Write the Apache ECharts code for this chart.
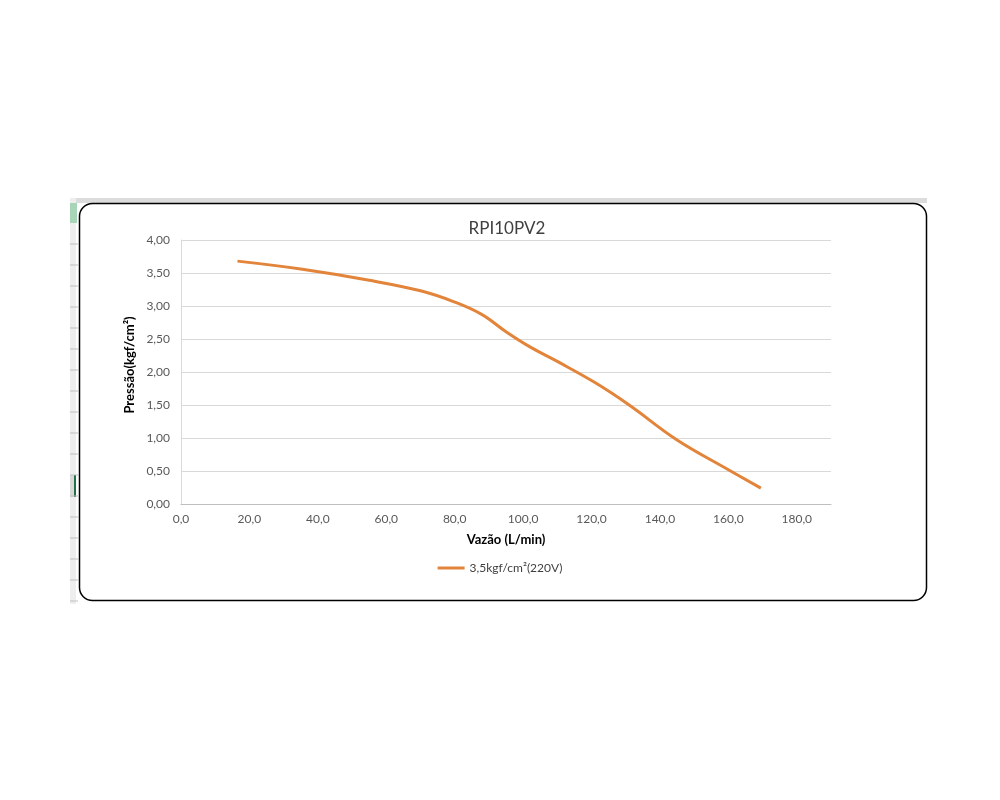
<!DOCTYPE html>
<html>
<head>
<meta charset="utf-8">
<script src="https://cdn.jsdelivr.net/npm/echarts@6/dist/echarts.min.js"></script>
<style>
  html, body { margin: 0; padding: 0; background: #fff; }
  #chart { width: 1000px; height: 800px; }
</style>
</head>
<body>
<div id="chart"></div>
<script>
// vazão (L/min) e pressão (kgf/cm²)
const vazao = [16.5, 35, 55, 70, 80, 88, 95, 102, 110, 121, 131, 145, 160, 169.5]
const pressao = [3.68, 3.56, 3.39, 3.23, 3.06, 2.87, 2.61, 2.38, 2.16, 1.84, 1.5, 0.97, 0.52, 0.24]
const serieNome = '3,5kgf/cm²(220V)'
const titulo = 'RPI10PV2'
const tituloY = 'Pressão(kgf/cm²)'
const tituloX = 'Vazão (L/min)'

const font = 'Lato, "Open Sans", sans-serif'
const chart = echarts.init(document.getElementById('chart'))

// pedaço da planilha por trás do gráfico
let planilha = [
    { type: 'rect', shape: { x: 70, y: 198, width: 857, height: 5 }, style: { fill: '#dcdcdc' }, z: 0 },
    { type: 'rect', shape: { x: 70, y: 198, width: 6, height: 406 }, style: { fill: '#eeeeee' }, z: 0 },
    { type: 'rect', shape: { x: 70, y: 203, width: 7, height: 20 }, style: { fill: '#a8d4b8' }, z: 0 },
    { type: 'rect', shape: { x: 70, y: 475, width: 4, height: 22 }, style: { fill: '#d8d8d8' }, z: 0 },
    { type: 'rect', shape: { x: 74, y: 475, width: 2, height: 22 }, style: { fill: '#217346' }, z: 0 }
]
for (let y = 244; y < 604; y += 21) {
    planilha.push({ type: 'line', shape: { x1: 70, y1: y, x2: 78, y2: y }, style: { stroke: '#bfbfbf', lineWidth: 1 }, z: 0 })
}
// borda arredondada do gráfico (sem preenchimento pra não tapar os eixos)
planilha.push({
    type: 'rect',
    shape: { x: 79.5, y: 203.5, width: 847, height: 397, r: 13 },
    style: { fill: null, stroke: '#000', lineWidth: 1.5 },
    z: 1
})
// título do eixo Y fica um pouco acima do centro da área, como no Excel
planilha.push({
    type: 'text',
    x: 130,
    y: 365,
    rotation: Math.PI / 2,
    style: {
        text: tituloY,
        align: 'center',
        verticalAlign: 'middle',
        font: 'bold 13px ' + font,
        fill: '#000'
    },
    z: 2
})

let option = {
    backgroundColor: '#fff',
    textStyle: { fontFamily: font },
    title: {
        text: titulo,
        left: 502,
        top: 215,
        textAlign: 'center',
        textStyle: { fontFamily: font, fontSize: 17, fontWeight: 'normal', color: '#404040' }
    },
    legend: {
        bottom: 221,
        left: 'center',
        itemWidth: 27,
        itemHeight: 3,
        itemGap: 2,
        icon: 'rect',
        textStyle: { fontFamily: font, fontSize: 12, color: '#404040' },
        data: [serieNome]
    },
    grid: { left: 181, right: 169, top: 240, bottom: 296 },
    xAxis: {
        type: 'value',
        min: 0,
        max: 190,
        interval: 20,
        name: tituloX,
        nameLocation: 'middle',
        nameGap: 29,
        nameTextStyle: { fontFamily: font, fontSize: 13, fontWeight: 'bold', color: '#000' },
        axisLine: { show: true, lineStyle: { color: '#bfbfbf' } },
        axisTick: { show: false },
        splitLine: { show: false },
        axisLabel: {
            showMaxLabel: false,
            margin: 9,
            fontSize: 12,
            color: '#595959',
            formatter: v => v.toFixed(1).replace('.', ',')
        }
    },
    yAxis: {
        type: 'value',
        min: 0,
        max: 4,
        interval: 0.5,
        axisLine: { show: true, lineStyle: { color: '#d9d9d9' } },
        axisTick: { show: false },
        splitLine: { lineStyle: { color: '#d9d9d9' } },
        axisLabel: {
            margin: 11,
            fontSize: 12,
            color: '#595959',
            formatter: v => v.toFixed(2).replace('.', ',')
        }
    },
    graphic: planilha,
    series: [{
        name: serieNome,
        type: 'line',
        smooth: 0.4,
        showSymbol: false,
        z: 5,
        lineStyle: { width: 3, color: '#e2843a' },
        itemStyle: { color: '#e2843a' },
        data: vazao.map((x, i) => [x, pressao[i]])
    }]
}
chart.setOption(option, true)
</script>
</body>
</html>
